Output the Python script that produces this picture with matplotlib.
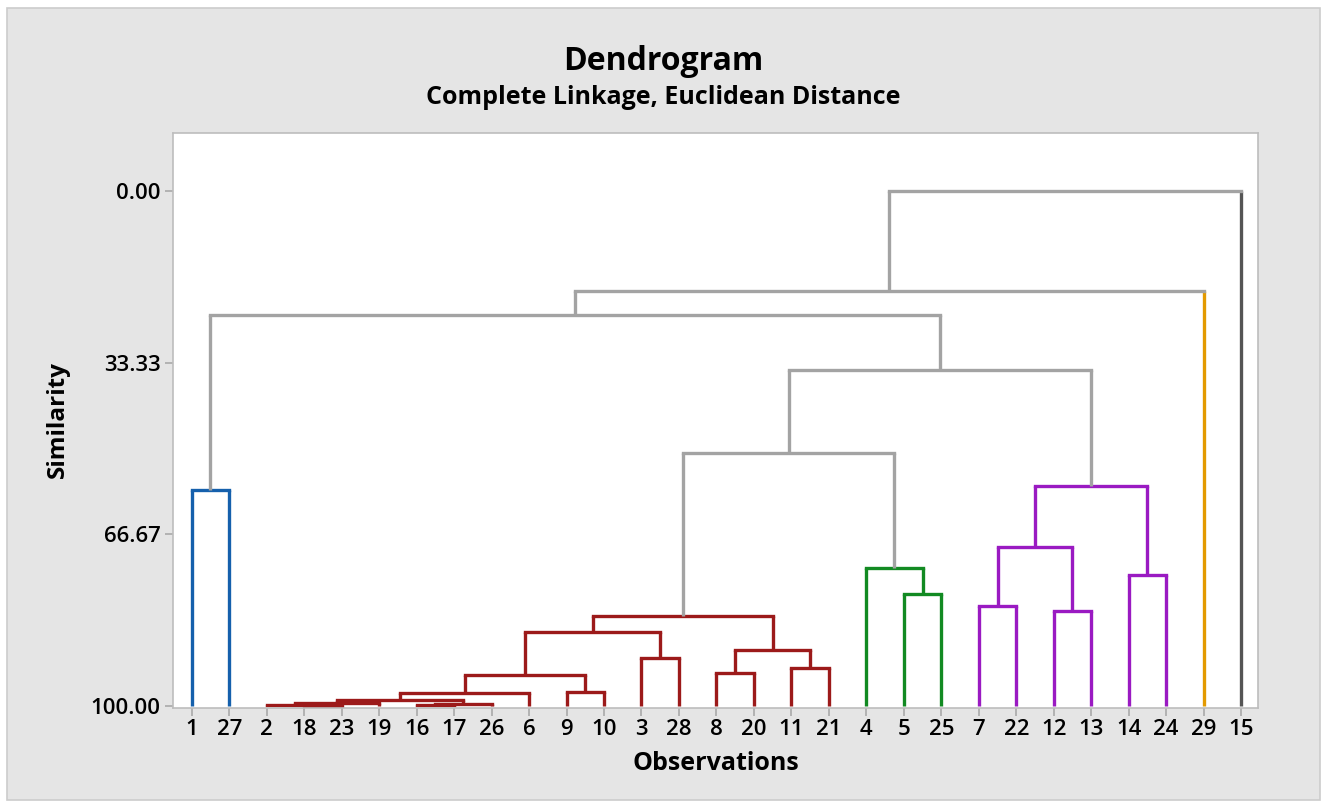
import matplotlib.pyplot as plt
from matplotlib.patches import Rectangle

# Leaf order along the x axis
leaf_order = [1, 27, 2, 18, 23, 19, 16, 17, 26, 6, 9, 10, 3, 28, 8, 20, 11, 21,
              4, 5, 25, 7, 22, 12, 13, 14, 24, 29, 15]

# Merges: (left child, right child, similarity level); merge i is called "m<i>"
merges = [
    (18, 23, 100.0),      # m0
    (2, 'm0', 99.8),      # m1
    ('m1', 19, 99.4),     # m2
    (16, 17, 99.9),       # m3
    ('m3', 26, 99.6),     # m4
    ('m2', 'm4', 98.8),   # m5
    ('m5', 6, 97.4),      # m6
    (9, 10, 97.2),        # m7
    ('m6', 'm7', 94.0),   # m8
    (3, 28, 90.7),        # m9
    ('m8', 'm9', 85.6),   # m10
    (8, 20, 93.6),        # m11
    (11, 21, 92.7),       # m12
    ('m11', 'm12', 89.1), # m13
    ('m10', 'm13', 82.5), # m14 red cluster
    (5, 25, 78.3),        # m15
    (4, 'm15', 73.2),     # m16 green cluster
    (7, 22, 80.6),        # m17
    (12, 13, 81.6),       # m18
    ('m17', 'm18', 69.1), # m19
    (14, 24, 74.6),       # m20
    ('m19', 'm20', 57.3), # m21 purple cluster
    ('m14', 'm16', 50.9), # m22
    ('m22', 'm21', 34.8), # m23
    (1, 27, 58.1),        # m24 blue cluster
    ('m24', 'm23', 24.1), # m25
    ('m25', 29, 19.4),    # m26
    ('m26', 15, 0.0),     # m27
]

# Cluster roots and their colours
cluster_roots = {'m14': '#9c1a1a', 'm16': '#128a22', 'm21': '#9a1ac2',
                 'm24': '#1560ac', 29: '#e39a00', 15: '#555555'}
link_grey = '#a3a3a3'

y_ticks = [0.00, 33.33, 66.67, 100.00]

# x position and height for each node
pos = {leaf: i + 1 for i, leaf in enumerate(leaf_order)}
height = {leaf: 100.0 for leaf in leaf_order}
children = {}
for i, (a, b, h) in enumerate(merges):
    name = 'm%d' % i
    pos[name] = (pos[a] + pos[b]) / 2
    height[name] = h
    children[name] = (a, b)

# colour of each merge: inherited from the cluster root it sits under
node_color = {}
def paint(node, color):
    if node in cluster_roots:
        color = cluster_roots[node]
    node_color[node] = color
    if node in children:
        for c in children[node]:
            paint(c, color)
paint('m%d' % (len(merges) - 1), link_grey)

fig = plt.figure(figsize=(13.32, 8.07), dpi=100)
fig.patch.set_facecolor('white')
bg = Rectangle((7 / 1332, 1 - 800 / 807), 1313 / 1332, 792 / 807,
               transform=fig.transFigure, facecolor='#e5e5e5',
               edgecolor='#cccccc', linewidth=1.2, zorder=-10)
fig.patches.append(bg)

ax = fig.add_axes([173 / 1332, 99 / 807, 1085 / 1332, 575 / 807])
ax.set_facecolor('white')

lw = 2.4
for i, (a, b, h) in enumerate(merges):
    name = 'm%d' % i
    c_u = node_color[name]
    ca = cluster_roots[a] if a in (29, 15) else c_u
    cb = cluster_roots[b] if b in (29, 15) else c_u
    ax.plot([pos[a], pos[a]], [height[a], h], color=ca, lw=lw, solid_capstyle='butt')
    ax.plot([pos[b], pos[b]], [height[b], h], color=cb, lw=lw, solid_capstyle='butt')
    ax.plot([pos[a], pos[b]], [h, h], color=c_u, lw=lw, solid_capstyle='projecting')

ax.set_xlim(0.5, 29.45)
ax.set_ylim(100.4, -11.3)
ax.set_xticks(range(1, len(leaf_order) + 1))
ax.set_xticklabels([str(v) for v in leaf_order])
ax.set_yticks(y_ticks)
ax.set_yticklabels(['%.2f' % v for v in y_ticks])

for s in ax.spines.values():
    s.set_color('#bdbdbd')
    s.set_linewidth(1.2)
ax.tick_params(axis='both', colors='#aaaaaa', length=6, width=1.2,
               labelcolor='black', labelsize=16)
ax.tick_params(axis='x', pad=2)
ax.tick_params(axis='y', pad=3)
for lab in ax.get_xticklabels() + ax.get_yticklabels():
    lab.set_fontweight('semibold')
    lab.set_family('Open Sans')

fig.text(0.498, 1 - 62 / 807, 'Dendrogram', ha='center', va='center',
         fontsize=23, fontweight='bold', family='Open Sans')
fig.text(0.498, 1 - 98 / 807, 'Complete Linkage, Euclidean Distance', ha='center',
         va='center', fontsize=18, fontweight='bold', family='Open Sans')
fig.text(58 / 1332, 1 - 420 / 807, 'Similarity', rotation=90, ha='center',
         va='center', fontsize=17.5, fontweight='bold', family='Open Sans')
fig.text(716 / 1332, 1 - 764 / 807, 'Observations', ha='center', va='center',
         fontsize=18, fontweight='bold', family='Open Sans')

plt.savefig('out.png', dpi=100)
